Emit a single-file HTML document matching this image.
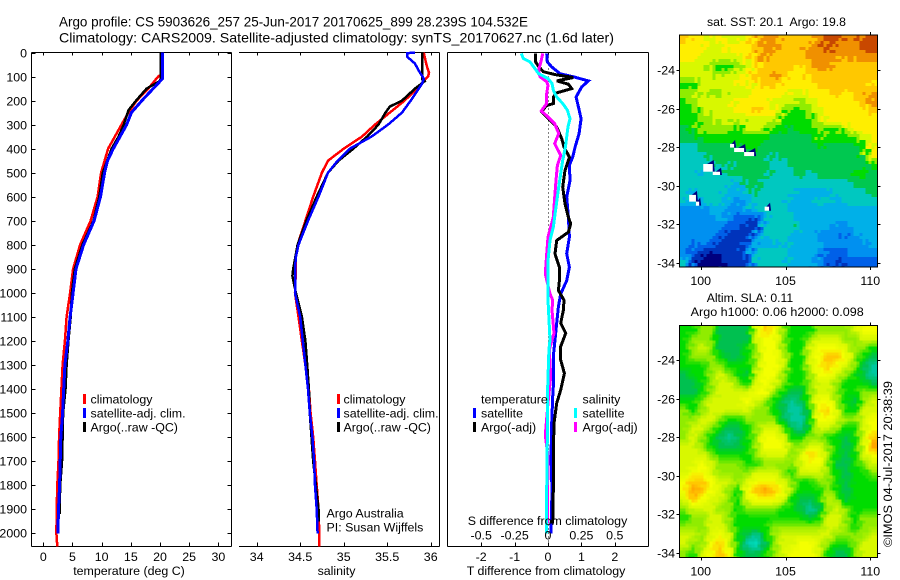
<!DOCTYPE html>
<html>
<head>
<meta charset="utf-8">
<title>Argo profile chart</title>
<style>
html,body{margin:0;padding:0;background:#fff;}
svg{display:block;}
text{font-family:"Liberation Sans",sans-serif;font-size:12.4px;fill:#000;white-space:pre;}
.ttl{font-size:14px;}
</style>
</head>
<body>
<svg id="chart" xmlns="http://www.w3.org/2000/svg" width="900" height="580" viewBox="0 0 900 580">
<text class="ttl" x="59" y="26.5" textLength="469" lengthAdjust="spacingAndGlyphs">Argo profile: CS 5903626_257 25-Jun-2017 20170625_899 28.239S 104.532E</text>
<text class="ttl" x="59" y="42.5" textLength="555" lengthAdjust="spacingAndGlyphs">Climatology: CARS2009. Satellite-adjusted climatology: synTS_20170627.nc (1.6d later)</text>
<text x="707" y="26" textLength="139" lengthAdjust="spacingAndGlyphs">sat. SST: 20.1  Argo: 19.8</text>
<text x="706.7" y="302" textLength="86.5" lengthAdjust="spacingAndGlyphs">Altim. SLA: 0.11</text>
<text x="690.7" y="316" textLength="173" lengthAdjust="spacingAndGlyphs">Argo h1000: 0.06 h2000: 0.098</text>
<text transform="translate(892,547) rotate(-90)" textLength="166" lengthAdjust="spacingAndGlyphs">©IMOS 04-Jul-2017 20:38:39</text>
</svg>
<script>
// ---- axis tick data ----
var depthTicks = [0,100,200,300,400,500,600,700,800,900,1000,1100,1200,1300,1400,1500,1600,1700,1800,1900,2000];
var tempTicks = [0,5,10,15,20,25,30];
var salTicks = [34,34.5,35,35.5,36];
var salTickLabels = ['34','34.5','35','35.5','36'];
var tDiffTicks = [-2,-1,0,1,2];
var sDiffTicks = [-0.5,-0.25,0,0.25,0.5];
var sDiffLabels = ['-0.5','-0.25','0','0.25','0.5'];
var lonTicks = [100,105,110];
var latTicks = [-24,-26,-28,-30,-32,-34];

// ---- temperature profiles ----
var tempClimDepth = [0,90,100,150,200,250,300,400,450,500,600,700,800,900,1000,1100,1200,1300,1400,1500,1600,1700,1800,1900,2000,2055];
var tempClimValue = [20.3,20.3,19.7,18,16,14.6,13.4,11.1,10.5,9.9,9.3,8.1,6.3,5.1,4.6,4,3.7,3.3,3.1,2.9,2.7,2.6,2.4,2.3,2.25,2.4];
var tempSatDepth = [0,110,200,250,300,400,450,500,600,700,800,900,1000,1100,1200,1300,1400,1500,1600,1700,1800,1900,2000];
var tempSatValue = [20.4,20.4,16.9,15.1,14.3,12,11,10.5,9.8,8.7,6.9,5.6,5.1,4.6,4.2,3.7,3.5,3.3,3,2.9,2.8,2.6,2.5];
var tempArgoDepth = [0,110,120,150,200,240,300,350,400,500,600,700,800,900,1000,1100,1200,1300,1400,1500,1600,1700,1800,1900,1920];
var tempArgoValue = [20.1,20.1,19.9,17.7,15.9,14.6,13.8,12.9,11.7,10.2,9.6,8.6,6.7,5.4,4.9,4.7,4.3,4,3.8,3.4,3.3,3.2,2.9,2.8,2.8];

// ---- salinity profiles ----
var salClimDepth = [0,50,85,100,115,150,200,250,300,350,400,450,500,600,700,800,850,900,1000,1100,1200,1300,1400,1500,1600,1700,1800,1900,2000,2055];
var salClimValue = [35.92,35.95,35.98,35.97,35.93,35.84,35.7,35.53,35.36,35.21,35,34.82,34.75,34.65,34.56,34.47,34.45,34.45,34.44,34.48,34.52,34.56,34.6,34.62,34.65,34.67,34.69,34.71,34.72,34.72];
var salSatDepth = [0,3,18,46,74,108,130,200,250,300,350,400,450,500,600,700,800,850,900,1000,1100,1200,1300,1400,1500,1600,1700,1800,1900,2000];
var salSatValue = [35.82,35.73,35.73,35.82,35.86,35.92,35.9,35.77,35.67,35.51,35.32,35.07,34.93,34.82,34.71,34.59,34.48,34.45,34.44,34.44,34.5,34.53,34.56,34.59,34.61,34.64,34.66,34.67,34.69,34.7];
var salArgoDepth = [0,110,120,150,200,225,250,300,350,400,450,500,600,700,800,900,930,1000,1100,1200,1300,1400,1500,1600,1700,1800,1900,1950];
var salArgoValue = [35.9,35.9,35.93,35.82,35.67,35.53,35.48,35.4,35.27,35.11,34.94,34.82,34.69,34.57,34.47,34.42,34.41,34.45,34.52,34.56,34.58,34.6,34.61,34.63,34.65,34.68,34.71,34.71];

// ---- difference profiles ----
var dTSatDepth = [4,39,60,88,101,118,143,185,226,275,337,393,435,469,532,601,685,768,837,893,949,1004,1057,1126,1196,1265,1390,1432,1543,1682,1820,2000];
var dTSatValue = [-0.04,-0.02,0.11,0.36,0.76,1.21,1.01,0.84,0.91,0.99,0.93,0.81,0.74,0.64,0.66,0.56,0.61,0.64,0.56,0.64,0.56,0.38,0.31,0.26,0.21,0.16,0.16,0.14,0.11,0.09,0.12,0.09];
var dTArgoDepth = [4,39,60,80,92,104,118,132,150,168,185,212,222,247,275,310,358,393,435,490,560,629,685,712,747,782,837,893,949,990,1030,1071,1126,1168,1223,1279,1335,1404,1459,1543,1682,1820,1959];
var dTArgoValue = [-0.37,-0.37,-0.27,-0.14,0.21,0.76,0.26,0.61,0.71,0.26,0.16,0.16,-0.06,-0.19,0.01,0.26,0.41,0.48,0.64,0.51,0.44,0.51,0.61,0.68,0.61,0.26,0.21,0.34,0.34,0.31,0.48,0.46,0.38,0.53,0.38,0.38,0.49,0.38,0.26,0.18,0.16,0.16,0.14];
var dSSatDepth = [4,25,39,67,88,108,129,157,185,212,240,275,310,351,393,449,504,560,643,726,782,865,949,1030,1196,1237,1390,1612,1820,2000];
var dSSatValue = [-0.2,-0.185,-0.135,-0.0975,-0.07,0,0.03,0.04,0.065,0.11,0.145,0.165,0.15,0.14,0.13,0.11,0.095,0.08,0.06,0.04,0.015,0,0,0,0.015,0.007,-0.002,-0.005,-0.01,-0.01];
var dSArgoDepth = [4,32,74,101,122,136,171,212,243,268,296,337,379,428,469,532,601,685,768,837,921,1004,1030,1071,1168,1237,1348,1459,1591,1682,1959];
var dSArgoValue = [-0.04,-0.05,-0.07,-0.06,-0.01,0,-0.01,-0.01,-0.05,0,0.05,0.08,0.05,0.095,0.07,0.06,0.05,0.04,0,-0.01,-0.02,0.015,0.035,0.03,0.045,0.01,0.02,0,-0.02,0,-0.005];

// ---- SST map grid (colour level per cell, top row first) ----
var sstGrid = [
[11,10,10,9,10,9,9,10,11,12,12,11,11,11,11,12,13,13,12,12,13,13],
[10,10,10,9,9,10,10,10,11,12,12,11,11,11,12,12,13,12,12,12,13,13],
[10,10,9,9,9,9,9,10,11,12,11,11,11,11,12,12,12,12,11,12,12,12],
[9,9,9,8,7,7,8,9,10,11,11,11,11,10,11,12,12,11,11,11,11,11],
[9,9,9,9,8,9,9,10,11,11,12,11,10,10,11,11,11,11,11,11,11,11],
[7,7,9,9,9,9,10,9,10,11,11,10,10,10,10,11,11,11,11,11,11,10],
[8,8,9,8,8,9,9,9,10,10,10,10,9,9,10,10,10,11,10,11,11,12],
[7,8,9,9,9,9,10,10,10,10,9,9,9,8,9,10,10,10,10,10,11,12],
[7,7,8,9,9,9,10,10,11,10,10,8,7,7,8,9,10,10,10,10,10,11],
[7,7,8,8,9,9,8,9,9,9,9,7,7,7,7,9,10,10,10,10,10,10],
[6,7,8,8,8,8,7,9,9,8,7,7,6,7,7,8,7,7,9,10,10,10],
[6,6,7,7,7,7,7,7,7,7,6,6,6,6,6,8,7,7,7,7,9,10],
[5,5,6,6,6,6,6,7,7,6,6,6,6,6,6,7,6,6,6,6,7,10],
[5,5,5,6,6,6,6,6,6,6,5,6,6,6,6,6,6,6,6,6,7,10],
[5,5,5,5,6,5,6,6,6,6,5,5,6,6,6,6,6,6,6,6,6,7],
[5,5,4,5,5,6,6,6,6,6,5,5,5,6,5,6,6,6,6,7,7,6],
[5,5,5,5,5,5,4,6,6,5,5,5,5,5,5,5,5,5,5,6,6,6],
[5,4,5,5,5,4,4,5,6,5,5,5,5,4,4,4,4,5,5,5,5,6],
[5,4,5,5,5,4,3,4,5,5,5,5,4,4,4,5,5,4,5,5,5,5],
[3,3,3,4,4,3,3,4,5,5,5,5,4,4,4,4,4,4,4,4,4,4],
[3,3,3,3,4,3,2,2,1,4,5,5,5,4,4,4,4,4,4,4,4,4],
[3,3,3,3,3,2,2,1,1,5,5,5,6,4,4,4,4,3,3,4,4,4],
[3,3,3,3,2,1,1,1,3,5,5,5,4,4,4,3,3,3,2,3,4,4],
[3,2,3,2,1,1,1,2,4,4,4,5,4,4,4,4,3,3,3,3,3,4],
[3,2,1,0,1,1,1,2,5,5,5,5,4,4,4,3,2,2,2,3,3,3],
[5,1,0,0,0,1,1,1,5,5,5,5,4,4,4,3,2,1,2,2,2,2]
];

// ---- SLA map grid (colour level per cell, top row first) ----
var slaGrid = [
[7,7,8,8,6,6,6,6,9,11,10,8,7,7,7,8,8,8,8,9,10,10],
[7,8,8,8,6,6,6,6,9,10,10,8,7,7,8,9,9,9,8,8,9,9],
[7,8,9,8,6,6,6,7,8,10,10,8,7,7,9,10,10,10,9,8,8,7],
[7,8,8,8,7,6,6,7,8,10,10,9,7,7,9,10,11,11,10,8,7,6],
[7,7,7,8,8,7,7,7,8,10,10,9,7,7,9,10,11,10,9,8,6,5],
[6,7,7,8,9,8,7,6,9,10,10,8,7,7,8,10,10,9,8,7,6,5],
[6,6,7,8,9,9,8,7,9,10,9,8,7,7,8,9,9,8,7,7,7,6],
[6,6,7,8,9,9,9,9,10,10,8,7,6,6,8,9,9,8,7,7,8,8],
[7,7,8,9,9,9,9,10,9,8,7,6,5,6,8,10,10,8,7,6,8,9],
[8,7,8,9,9,9,9,9,8,8,7,6,5,5,7,10,11,9,7,7,9,9],
[8,8,9,9,8,7,7,8,8,8,8,6,5,5,7,10,10,9,8,8,9,10],
[8,9,9,8,7,6,6,7,8,9,9,8,6,5,7,9,9,8,7,7,9,10],
[8,9,8,7,6,5,6,7,8,10,10,9,7,7,8,8,7,7,6,7,9,11],
[9,9,8,7,6,6,6,7,8,10,10,10,8,8,9,9,8,7,6,7,9,12],
[9,9,9,8,7,7,7,7,8,9,9,9,8,9,11,10,8,7,6,7,9,10],
[9,9,10,9,8,8,8,7,7,8,8,8,8,9,10,10,8,6,6,7,8,9],
[9,10,10,9,8,8,8,8,9,9,9,8,7,9,9,9,8,7,6,7,7,8],
[10,11,11,10,9,9,8,9,10,10,10,9,8,7,7,8,8,7,6,7,7,7],
[10,12,11,10,9,8,7,10,11,12,11,10,8,7,7,7,8,7,6,7,7,7],
[9,11,10,9,9,8,7,9,10,10,10,9,7,6,6,7,9,8,6,7,7,7],
[8,9,9,9,8,8,7,8,8,8,8,7,7,6,5,6,8,9,8,7,7,7],
[7,8,8,9,9,8,7,7,7,7,7,7,7,7,6,7,9,9,8,7,8,8],
[8,8,8,9,9,8,7,7,7,7,8,8,8,8,8,8,9,9,8,7,8,8],
[9,9,8,9,10,9,7,6,5,7,8,9,9,9,9,9,9,8,8,8,8,9],
[9,8,8,10,11,9,7,5,4,6,8,9,9,10,10,9,8,7,7,8,9,9],
[8,7,9,10,11,10,7,6,6,7,8,9,10,10,10,9,7,6,6,8,9,9]
];

// ---- missing-data patches in SST map (degrees) ----
var gapLonMin = [100.15,100.71,101.73,101.97,102.56,99.32,99.72,103.77];
var gapLonMax = [100.71,101.14,101.97,102.56,103.15,99.72,99.91,104.03];
var gapLatTop = [-28.87,-29.27,-27.83,-28.04,-28.25,-30.47,-30.82,-31.08];
var gapLatBot = [-29.27,-29.44,-28.02,-28.25,-28.46,-30.82,-31.03,-31.29];

var NS = 'http://www.w3.org/2000/svg';
var svg = document.getElementById('chart');
function add(tag, attrs, parent) {
  var e = document.createElementNS(NS, tag);
  for (var k in attrs) e.setAttribute(k, attrs[k]);
  (parent || svg).appendChild(e);
  return e;
}

// axis functions
var depthY = function (d) { return 52.5 + d * 0.2404; };
var tempX = function (v) { return 43.3 + v * 5.835; };
var salX = function (v) { return 256.7 + (v - 34) * 87; };
var dTX = function (v) { return 548 + v * 33.4; };
var dSX = function (v) { return 548 + v * 133.6; };
var lonX = function (v) { return 700.7 + (v - 100) * 16.96; };
var sstLatY = function (v) { return 70 + (-24 - v) * 19.3; };
var slaLatY = function (v) { return 360 + (-24 - v) * 19.3; };

function series(xs, ds, xf, color, name, width) {
  var pts = [];
  for (var i = 0; i < xs.length; i++) pts.push(xf(xs[i]).toFixed(1) + ',' + depthY(ds[i]).toFixed(1));
  var l = add('polyline', {points: pts.join(' '), fill: 'none', stroke: color, 'stroke-width': width || 3, 'shape-rendering': 'crispEdges', 'stroke-linejoin': 'miter'});
  
  
}
function line(x1, y1, x2, y2, name, parent) {
  var l = add('line', {x1: x1, y1: y1, x2: x2, y2: y2, stroke: '#000', 'stroke-width': 1, 'shape-rendering': 'crispEdges'}, parent);
  
  
  return l;
}
function label(x, y, str, anchor, name) {
  var t = add('text', {x: x, y: y, 'text-anchor': anchor || 'start'});
  t.textContent = str;
  
  
  return t;
}
function swatch(x, y, color, name) {
  var r = add('rect', {x: x, y: y, width: 3, height: 10, fill: color});
  
  
}

var TOP = 52.5, BOT = 546.5;

// ---- temperature panel ----
line(31.5, TOP, 231.5, TOP, 'temp-top-axis');
line(31.5, BOT, 231.5, BOT, 'temp-bottom-axis');
line(31.5, TOP, 31.5, BOT, 'temp-left-axis');
line(231.5, TOP, 231.5, BOT, 'temp-right-axis');
depthTicks.forEach(function (d) {
  var y = Math.round(depthY(d)) + 0.5;
  line(31.5, y, 35.5, y, 'depth-tick-left');
  line(227.5, y, 231.5, y, 'depth-tick-right');
  label(27, y + 4, String(d), 'end', 'depth-tick-label');
});
tempTicks.forEach(function (v) {
  var x = Math.round(tempX(v)) + 0.5;
  line(x, TOP, x, TOP + 3, 'temp-tick-top');
  line(x, BOT - 4, x, BOT, 'temp-tick-bottom');
  label(tempX(v), 561, String(v), 'middle', 'temp-tick-label');
});
label(129, 575, 'temperature (deg C)', 'middle', 'temp-axis-title');
series(tempClimValue, tempClimDepth, tempX, '#ff0000', 'temp-climatology-line', 2.5);
series(tempArgoValue, tempArgoDepth, tempX, '#000000', 'temp-argo-line', 2.5);
series(tempSatValue, tempSatDepth, tempX, '#0000ff', 'temp-satellite-line');
swatch(83, 394, '#ff0000', 'temp-legend-swatch-climatology');
swatch(83, 408, '#0000ff', 'temp-legend-swatch-satellite');
swatch(83, 422, '#000000', 'temp-legend-swatch-argo');
label(90.5, 403.5, 'climatology', 'start', 'temp-legend-climatology');
label(90.5, 417.5, 'satellite-adj. clim.', 'start', 'temp-legend-satellite');
label(90.5, 431.5, 'Argo(..raw -QC)', 'start', 'temp-legend-argo');

// ---- salinity panel ----
line(239, TOP, 439.5, TOP, 'salinity-top-axis');
line(239, BOT, 439.5, BOT, 'salinity-bottom-axis');
line(439.5, TOP, 439.5, BOT, 'salinity-right-axis');
salTicks.forEach(function (v, i) {
  var x = Math.round(salX(v)) + 0.5;
  line(x, TOP, x, TOP + 3, 'salinity-tick-top');
  line(x, BOT - 4, x, BOT, 'salinity-tick-bottom');
  label(salX(v), 561, salTickLabels[i], 'middle', 'salinity-tick-label');
});
label(336.5, 575, 'salinity', 'middle', 'salinity-axis-title');
series(salClimValue, salClimDepth, salX, '#ff0000', 'salinity-climatology-line', 2.5);
series(salArgoValue, salArgoDepth, salX, '#000000', 'salinity-argo-line', 2.5);
series(salSatValue, salSatDepth, salX, '#0000ff', 'salinity-satellite-line', 2.5);
swatch(337, 394, '#ff0000', 'salinity-legend-swatch-climatology');
swatch(337, 408, '#0000ff', 'salinity-legend-swatch-satellite');
swatch(337, 422, '#000000', 'salinity-legend-swatch-argo');
label(343.5, 403.5, 'climatology', 'start', 'salinity-legend-climatology');
label(343.5, 417.5, 'satellite-adj. clim.', 'start', 'salinity-legend-satellite');
label(343.5, 431.5, 'Argo(..raw -QC)', 'start', 'salinity-legend-argo');
label(326.5, 517.5, 'Argo Australia', 'start', 'float-owner-label');
label(326.5, 531.5, 'PI: Susan Wijffels', 'start', 'float-pi-label');

// ---- difference panel ----
line(447.5, TOP, 648.5, TOP, 'diff-top-axis');
line(447.5, BOT, 648.5, BOT, 'diff-bottom-axis');
line(447.5, TOP, 447.5, BOT, 'diff-left-axis');
line(648.5, TOP, 648.5, BOT, 'diff-right-axis');
var zeroLine = line(548.5, TOP, 548.5, BOT, 'diff-zero-line');
zeroLine.setAttribute('stroke-dasharray', '1 3');
tDiffTicks.forEach(function (v) {
  var x = Math.round(dTX(v)) + 0.5;
  line(x, TOP, x, TOP + 3, 'diff-tick-top');
  line(x, BOT - 4, x, BOT, 'diff-tick-bottom');
  label(dTX(v), 561, String(v), 'middle', 't-diff-tick-label');
});
label(546, 575, 'T difference from climatology', 'middle', 't-diff-axis-title');
series(dTSatValue, dTSatDepth, dTX, '#0000ff', 't-diff-satellite-line');
series(dTArgoValue, dTArgoDepth, dTX, '#000000', 't-diff-argo-line');
series(dSArgoValue, dSArgoDepth, dSX, '#ff00ff', 's-diff-argo-line');
series(dSSatValue, dSSatDepth, dSX, '#00ffff', 's-diff-satellite-line');
sDiffTicks.forEach(function (v, i) {
  label(dSX(v), 539.5, sDiffLabels[i], 'middle', 's-diff-tick-label');
});
label(547.5, 525, 'S difference from climatology', 'middle', 's-diff-axis-title');
label(481, 403.5, 'temperature', 'start', 'diff-legend-temperature-heading');
label(481, 417.5, 'satellite', 'start', 'diff-legend-t-satellite');
label(481, 431.5, 'Argo(-adj)', 'start', 'diff-legend-t-argo');
label(582.5, 403.5, 'salinity', 'start', 'diff-legend-salinity-heading');
label(582.5, 417.5, 'satellite', 'start', 'diff-legend-s-satellite');
label(582.5, 431.5, 'Argo(-adj)', 'start', 'diff-legend-s-argo');
swatch(473, 408, '#0000ff', 'diff-legend-swatch-t-satellite');
swatch(473, 422, '#000000', 'diff-legend-swatch-t-argo');
swatch(574, 408, '#00ffff', 'diff-legend-swatch-s-satellite');
swatch(574, 422, '#ff00ff', 'diff-legend-swatch-s-argo');

// ---- maps ----
var sstColors = [[0,0,127],[0,51,187],[0,96,232],[0,144,240],[0,176,232],[0,200,192],[0,200,80],[0,220,0],[144,236,0],[216,248,0],[255,238,0],[255,200,0],[240,144,0],[200,72,0]];
var slaColors = [[0,0,127],[0,51,187],[0,96,232],[0,144,240],[0,224,192],[0,200,160],[0,192,80],[0,220,0],[144,236,0],[216,248,0],[244,255,0],[255,200,0],[255,156,0],[200,72,0]];

function sample(grid, u, v) {
  var rows = grid.length, cols = grid[0].length;
  var fx = Math.max(0, Math.min(cols - 1, u * cols - 0.5));
  var fy = Math.max(0, Math.min(rows - 1, v * rows - 0.5));
  var x0 = Math.floor(fx), y0 = Math.floor(fy);
  var x1 = Math.min(cols - 1, x0 + 1), y1 = Math.min(rows - 1, y0 + 1);
  var a = fx - x0, b = fy - y0;
  return grid[y0][x0] * (1 - a) * (1 - b) + grid[y0][x1] * a * (1 - b) + grid[y1][x0] * (1 - a) * b + grid[y1][x1] * a * b;
}
function colorFor(colors, val, step) {
  var q = Math.max(0, Math.min(colors.length - 1, Math.round(val / step) * step));
  var i = Math.min(colors.length - 2, Math.floor(q)), f = q - i;
  var c = colors[i], d = colors[i + 1];
  return 'rgb(' + Math.round(c[0] + (d[0] - c[0]) * f) + ',' + Math.round(c[1] + (d[1] - c[1]) * f) + ',' + Math.round(c[2] + (d[2] - c[2]) * f) + ')';
}
function drawMap(grid, colors, x0, y0, w, h, mapName, step, tooth) {
  var g = add('g', {'shape-rendering': 'crispEdges'});
  
  
  var cw = 3, ch = 3;
  var nx = Math.ceil(w / cw), ny = Math.ceil(h / ch);
  for (var j = 0; j < ny; j++) {
    for (var i = 0; i < nx; i++) {
      var phase = (j + Math.floor(i / 2) * 2) % 5;
      var shearX = (phase - 2) * tooth;
      var u = (i * cw + cw / 2 + shearX) / w;
      var v = (j * ch + ch / 2) / h;
      var val = sample(grid, u, v);
      var r = add('rect', {x: x0 + i * cw, y: y0 + j * ch, width: Math.min(cw, w - i * cw), height: Math.min(ch, h - j * ch), fill: colorFor(colors, val, step)}, g);
      
      
    }
  }
}
function mapFrame(x0, y0, w, h, latY, name) {
  var x1 = x0 + w, y1 = y0 + h;
  var f = add('rect', {x: x0, y: y0, width: w, height: h, fill: 'none', stroke: '#000', 'stroke-width': 1, 'shape-rendering': 'crispEdges'});
  
  
  lonTicks.forEach(function (v) {
    var x = Math.round(lonX(v)) + 0.5;
    line(x, y0 - 3, x, y0, name + '-lon-tick-top');
    line(x, y1, x, y1 + 3, name + '-lon-tick-bottom');
    label(lonX(v), y1 + 18, String(v), 'middle', name + '-lon-label');
  });
  latTicks.forEach(function (v) {
    var y = Math.round(latY(v)) + 0.5;
    line(x0 - 3, y, x0, y, name + '-lat-tick-left');
    line(x1, y, x1 + 3, y, name + '-lat-tick-right');
    label(x0 - 4.5, y + 4, String(v), 'end', name + '-lat-label');
  });
}
var MAPX = 679.5, MAPW = 198, SSTY = 35, SSTH = 232, SLAY = 325.5, SLAH = 232;
drawMap(sstGrid, sstColors, MAPX, SSTY, MAPW, SSTH, 'sst-map', 1, 2.4);
gapLonMin.forEach(function (lon, i) {
  var xa = lonX(lon), xb = lonX(gapLonMax[i]), ya = sstLatY(gapLatTop[i]), yb = sstLatY(gapLatBot[i]);
  var n = add('polygon', {points: [(xa + (xb - xa) * 0.4) + ',' + ya, (xb + 1) + ',' + (ya - 4), (xb + 2) + ',' + yb, xb + ',' + yb].join(' '), fill: '#00007f'});
  
  
  var r = add('rect', {x: xa, y: ya, width: xb - xa, height: yb - ya, fill: '#fff'});
  
  
});
mapFrame(MAPX, SSTY, MAPW, SSTH, sstLatY, 'sst-map');
drawMap(slaGrid, slaColors, MAPX, SLAY, MAPW, SLAH, 'sla-map', 0.25, 1);
mapFrame(MAPX, SLAY, MAPW, SLAH, slaLatY, 'sla-map');
</script>
</body>
</html>
